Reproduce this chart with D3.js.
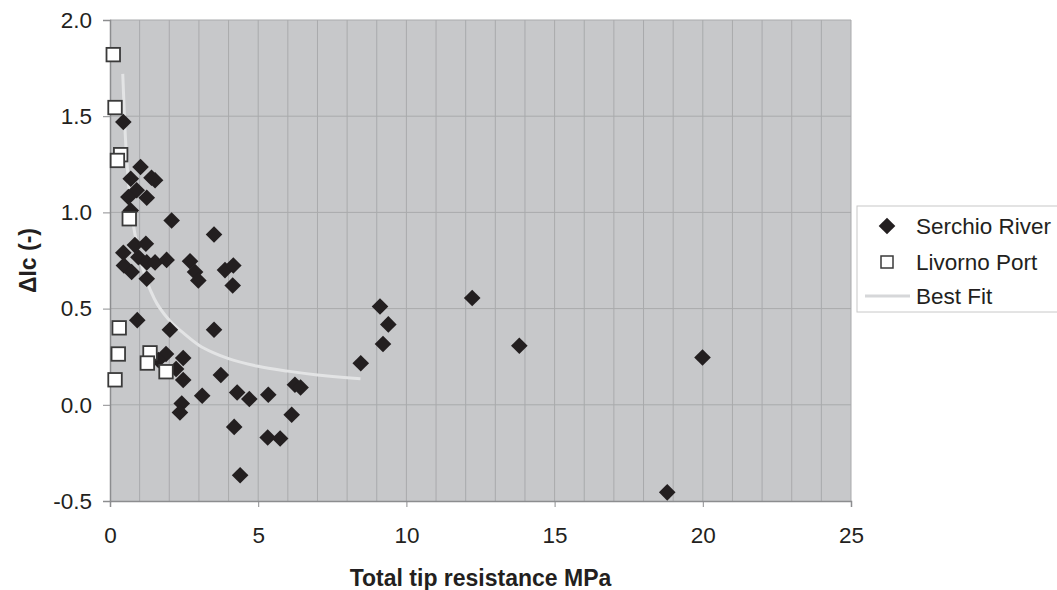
<!DOCTYPE html>
<html>
<head>
<meta charset="utf-8">
<script src="https://cdn.jsdelivr.net/npm/d3@7"></script>
<style>
  body { margin: 0; background: #fff; }
  text { font-family: Arial, "Liberation Sans", sans-serif; fill: #231f20; }
</style>
</head>
<body>
<script>
// Serchio River points [tip resistance MPa, delta Ic]
var serchioX = [0.45, 1.03, 1.40, 1.52, 0.70, 0.90, 0.62, 1.24, 0.70, 2.08, 3.51,
  0.45, 0.84, 1.21, 0.96, 0.47, 0.73, 1.24, 1.52, 1.91, 1.24, 2.70, 2.87, 2.98, 3.88, 4.16, 4.14, 0.92,
  2.02, 3.51, 1.89, 2.47, 2.23, 2.47, 1.63, 3.74, 3.11, 2.42, 2.36, 4.29, 4.70, 5.34, 6.24, 6.43, 6.13,
  4.19, 5.32, 5.74, 4.39, 9.11, 9.39, 9.21, 8.46, 12.22, 13.81, 19.99, 18.80];
var serchioY = [1.47, 1.236, 1.18, 1.167, 1.175, 1.115, 1.08, 1.076, 1.01, 0.958, 0.885,
  0.79, 0.83, 0.837, 0.767, 0.724, 0.69, 0.74, 0.74, 0.753, 0.655, 0.746, 0.69, 0.646, 0.70, 0.724, 0.62, 0.44,
  0.39, 0.39, 0.264, 0.243, 0.186, 0.129, 0.233, 0.155, 0.047, 0.007, -0.04, 0.064, 0.03, 0.052, 0.104, 0.09, -0.052,
  -0.115, -0.17, -0.175, -0.366, 0.511, 0.418, 0.316, 0.216, 0.555, 0.307, 0.246, -0.455];

// Livorno Port points
var livornoX = [0.11, 0.17, 0.36, 0.25, 0.65, 0.31, 0.28, 0.17, 1.35, 1.26, 1.89];
var livornoY = [1.82, 1.545, 1.30, 1.27, 0.967, 0.40, 0.264, 0.13, 0.27, 0.217, 0.172];

// best fit curve
var fitX = [0.43, 0.5, 0.6, 0.7, 0.85, 1.0, 1.25, 1.5, 2.0, 2.5, 3.0, 3.5, 4.0, 5.0, 6.0, 7.0, 8.0, 8.45];
var fitY = [1.72, 1.45, 1.2, 1.03, 0.88, 0.77, 0.64, 0.55, 0.44, 0.37, 0.31, 0.27, 0.24, 0.2, 0.175, 0.155, 0.14, 0.135];

var xTicks = [0, 5, 10, 15, 20, 25];
var yTicks = [-0.5, 0, 0.5, 1.0, 1.5, 2.0];
var legendLabels = ["Serchio River", "Livorno Port", "Best Fit"];

var width = 1057, height = 590;
var margin = {left: 110, top: 20, right: 206, bottom: 89};
var w = width - margin.left - margin.right;
var h = height - margin.top - margin.bottom;

var svg = d3.select("body").append("svg")
    .attr("width", width)
    .attr("height", height);

var x = d3.scaleLinear().domain([0, 25]).range([0, w]);
var y = d3.scaleLinear().domain([-0.5, 2.0]).range([h, 0]);

var g = svg.append("g")
    .attr("transform", "translate(" + margin.left + "," + margin.top + ")");

// plot background
g.append("rect")
    .attr("width", w)
    .attr("height", h)
    .attr("fill", "#c7c8ca");

// grid lines
g.selectAll(".vgrid")
    .data(d3.range(1, 26))
    .enter().append("line")
    .attr("x1", d => x(d)).attr("x2", d => x(d))
    .attr("y1", 0).attr("y2", h)
    .attr("stroke", "#a9aaac")
    .attr("stroke-width", 1);

g.selectAll(".hgrid")
    .data(yTicks.slice(1))
    .enter().append("line")
    .attr("x1", 0).attr("x2", w)
    .attr("y1", d => y(d)).attr("y2", d => y(d))
    .attr("stroke", "#a9aaac")
    .attr("stroke-width", 1);

// axes
var xAxis = g.append("g")
    .attr("transform", "translate(0," + h + ")")
    .call(d3.axisBottom(x).tickValues(xTicks).tickSize(6).tickPadding(20));
var yAxis = g.append("g")
    .call(d3.axisLeft(y).tickValues(yTicks).tickSize(7).tickPadding(11)
        .tickFormat(d => d.toFixed(1)));

[xAxis, yAxis].forEach(function(a) {
    a.select(".domain").attr("stroke", "#8c8d8f").attr("stroke-width", 1.5);
    a.selectAll(".tick line").attr("stroke", "#8c8d8f");
    a.selectAll(".tick text")
        .attr("font-size", 22.5)
        .attr("fill", "#231f20");
});

// best fit
var fitData = fitX.map((v, i) => [v, fitY[i]]);
g.append("path")
    .datum(fitData)
    .attr("fill", "none")
    .attr("stroke", "#e3e4e5")
    .attr("stroke-width", 3)
    .attr("d", d3.line().curve(d3.curveMonotoneX).x(d => x(d[0])).y(d => y(d[1])));

// serchio diamonds
var diamond = d3.symbol().type(d3.symbolSquare).size(138);
g.selectAll(".serchio")
    .data(serchioX.map((v, i) => [v, serchioY[i]]))
    .enter().append("path")
    .attr("d", diamond)
    .attr("transform", d => "translate(" + x(d[0]) + "," + y(d[1]) + ") rotate(45)")
    .attr("fill", "#231f20");

// livorno squares
var sq = 13.5;
g.selectAll(".livorno")
    .data(livornoX.map((v, i) => [v, livornoY[i]]))
    .enter().append("rect")
    .attr("x", d => x(d[0]) - sq / 2)
    .attr("y", d => y(d[1]) - sq / 2)
    .attr("width", sq).attr("height", sq)
    .attr("fill", "#fff")
    .attr("stroke", "#3a3a3a")
    .attr("stroke-width", 1.8);

// axis titles
svg.append("text")
    .attr("x", margin.left + w / 2)
    .attr("y", 586)
    .attr("text-anchor", "middle")
    .attr("font-size", 23)
    .attr("font-weight", "bold")
    .text("Total tip resistance MPa");

svg.append("text")
    .attr("transform", "translate(36," + (margin.top + h / 2) + ") rotate(-90)")
    .attr("text-anchor", "middle")
    .attr("font-size", 23)
    .attr("font-weight", "bold")
    .text("\u0394Ic (-)");

// legend
var leg = svg.append("g").attr("transform", "translate(857,206)");
leg.append("rect")
    .attr("width", 210).attr("height", 106)
    .attr("fill", "#fff")
    .attr("stroke", "#c8c8c8");

var rowY = [20, 56, 90];
leg.selectAll(".ltext")
    .data(legendLabels)
    .enter().append("text")
    .attr("x", 59)
    .attr("y", (d, i) => rowY[i])
    .attr("dy", "0.35em")
    .attr("font-size", 22.5)
    .text(d => d);

leg.append("path")
    .attr("d", diamond)
    .attr("transform", "translate(30," + rowY[0] + ") rotate(45)")
    .attr("fill", "#231f20");
leg.append("rect")
    .attr("x", 24).attr("y", rowY[1] - 6)
    .attr("width", 12).attr("height", 12)
    .attr("fill", "#fff")
    .attr("stroke", "#3a3a3a")
    .attr("stroke-width", 1.5);
leg.append("line")
    .attr("x1", 8).attr("x2", 53)
    .attr("y1", rowY[2]).attr("y2", rowY[2])
    .attr("stroke", "#d6d7d9")
    .attr("stroke-width", 3);
</script>
</body>
</html>
